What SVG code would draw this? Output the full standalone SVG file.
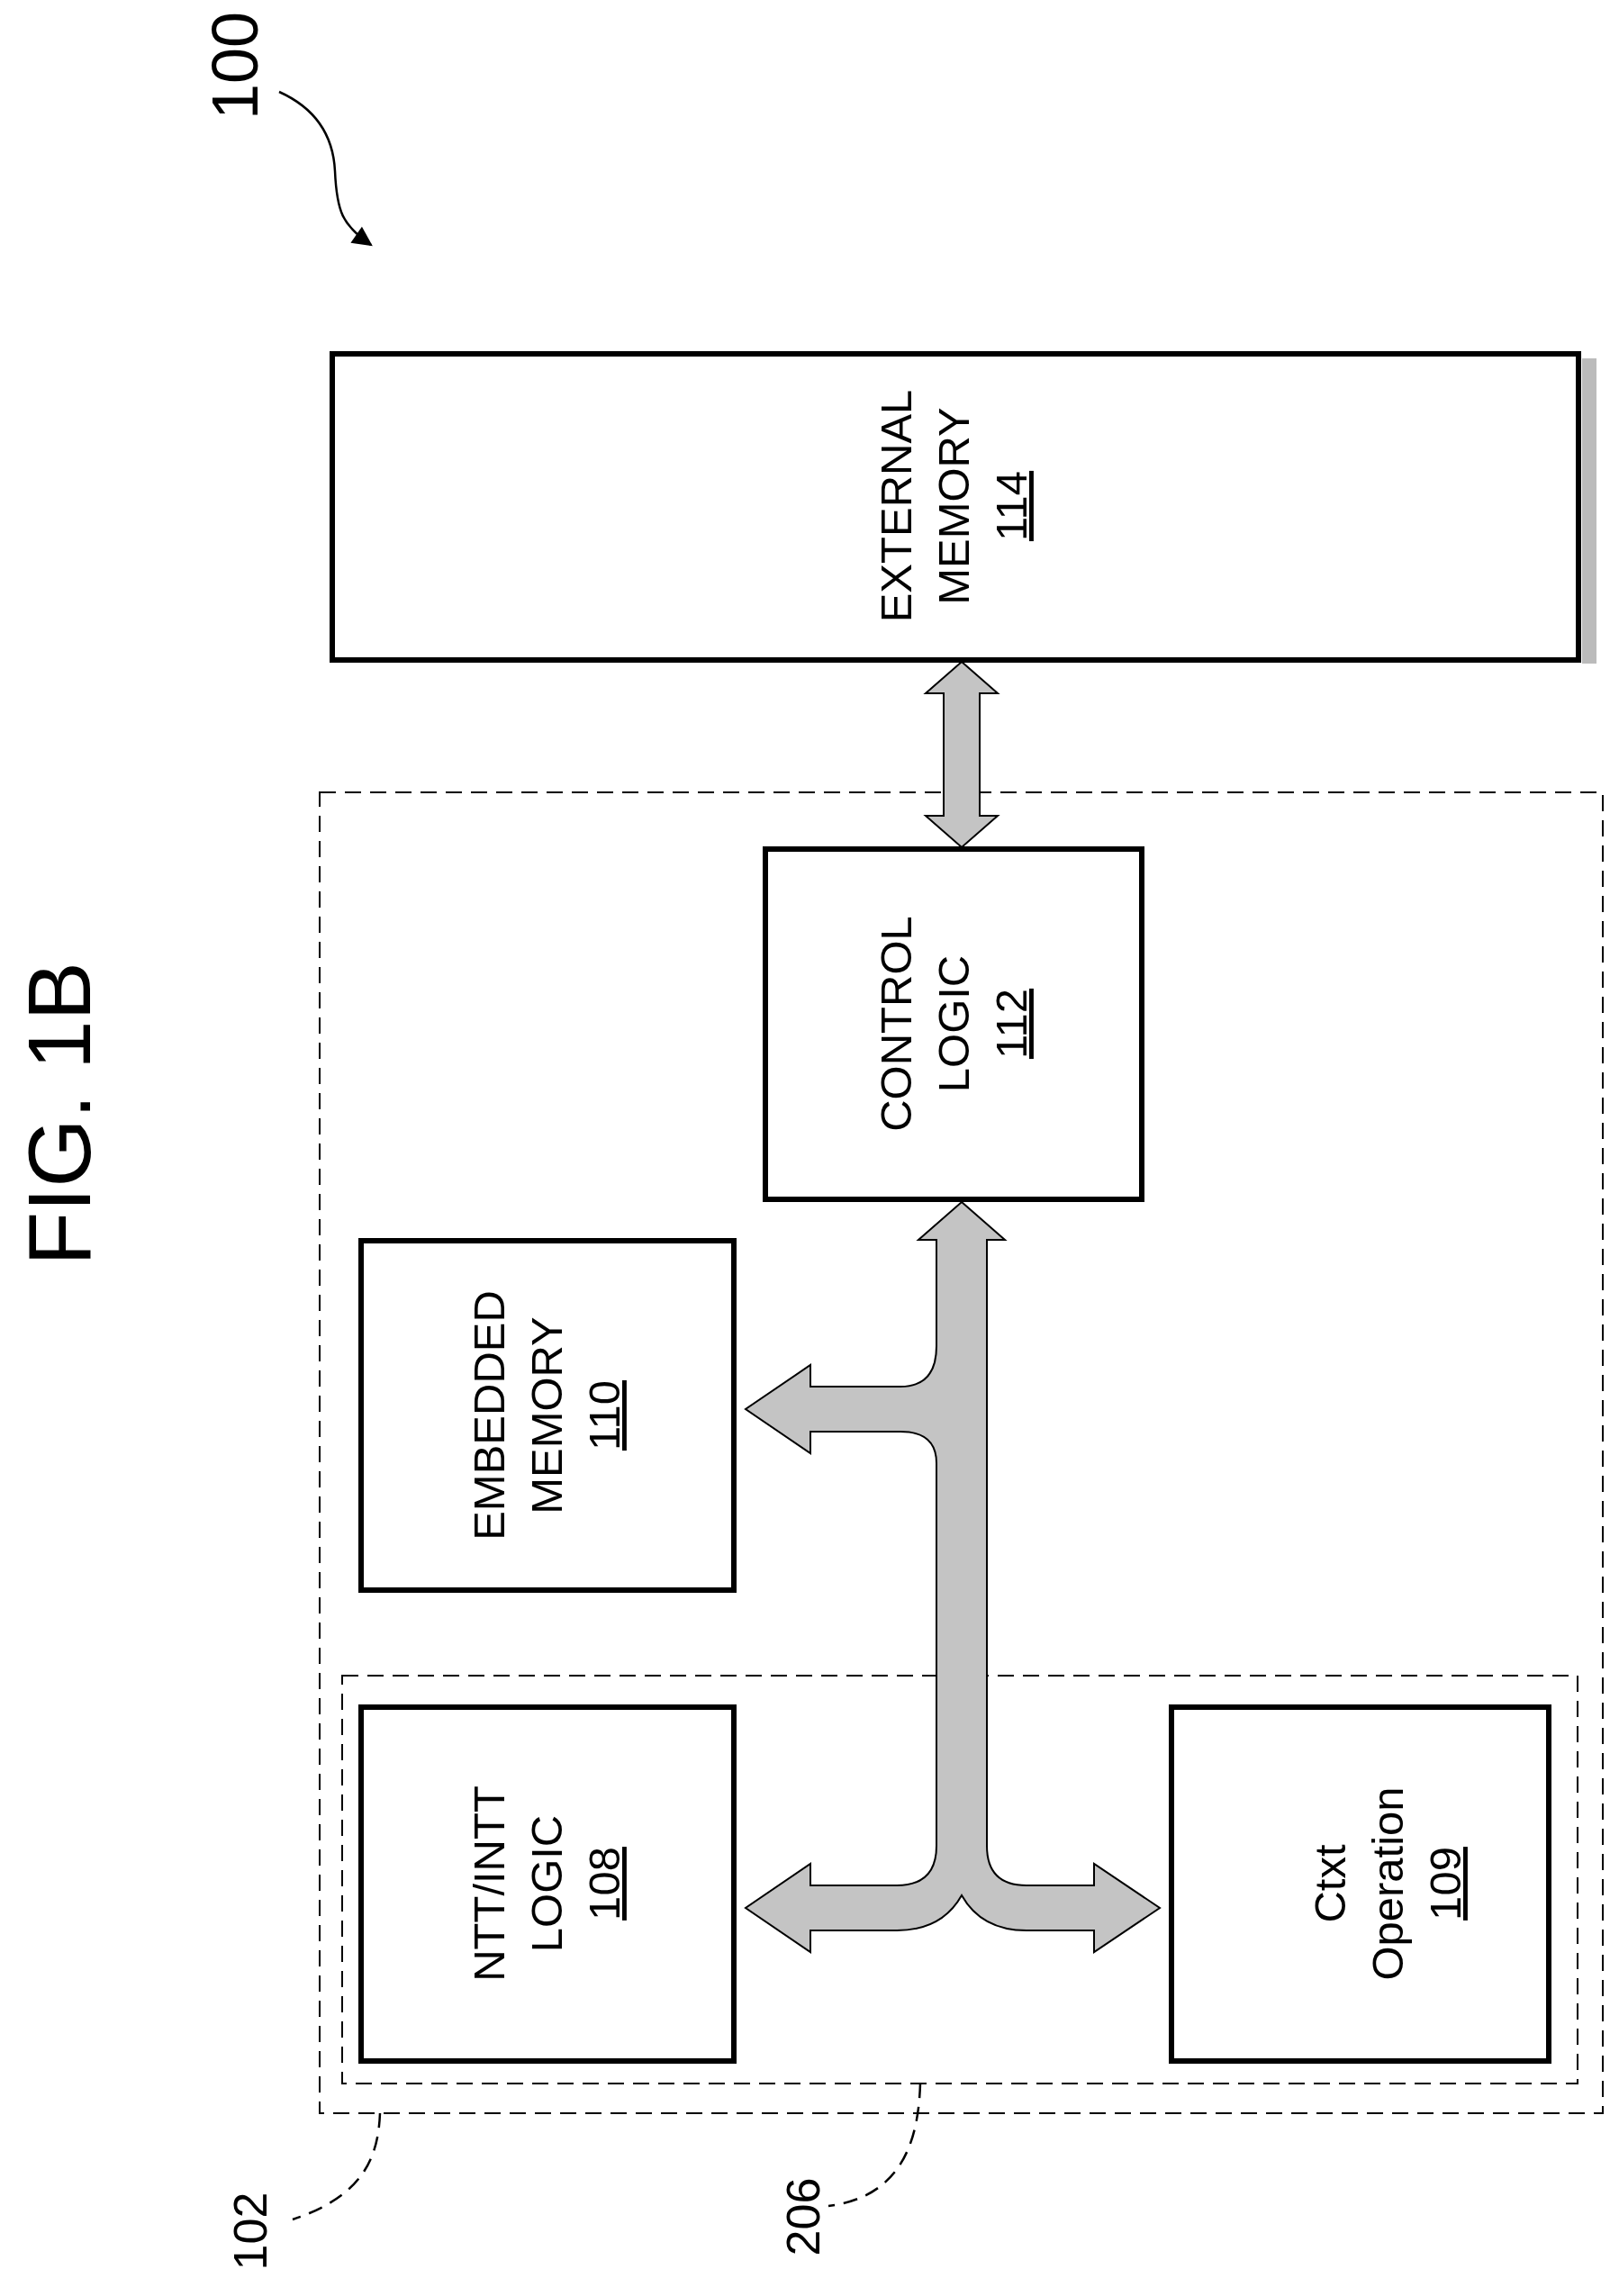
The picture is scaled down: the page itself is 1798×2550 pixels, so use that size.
<svg xmlns="http://www.w3.org/2000/svg" width="1798" height="2550" viewBox="0 0 1798 2550">
<style>
.box{fill:#fff;stroke:#000;stroke-width:6}
.dash{fill:none;stroke:#000;stroke-width:2;stroke-dasharray:18 10}
.bus{fill:#c4c4c4;stroke:#000;stroke-width:2;stroke-linejoin:miter}
.t{font-family:"Liberation Sans",Arial,sans-serif;font-size:49px;text-anchor:middle;fill:#000}
.lead{fill:none;stroke:#000;stroke-width:2.5}
</style>
<defs>
<marker id="ah2" viewBox="0 0 10 10" refX="9" refY="5" markerWidth="28" markerHeight="22" orient="auto" markerUnits="userSpaceOnUse"><path d="M0,0 L10,5 L0,10 Z" fill="#000"/></marker>
</defs>
<text class="t" style="font-size:98px" transform="translate(100,1237) rotate(-90)">FIG. 1B</text>
<text class="t" style="font-size:72px" transform="translate(286,73) rotate(-90)">100</text>
<path class="lead" marker-end="url(#ah2)" d="M310,102 C350,120 370,150 372,190 C374,235 380,250 412,272"/>

<g id="n102"><rect class="dash" x="355" y="880" width="1425" height="1467"/></g>
<g id="n206"><rect class="dash" x="380" y="1861" width="1372" height="453"/></g>

<g id="n114">
<rect x="1757" y="398" width="16" height="339" fill="#bbb"/>
<rect class="box" x="369" y="393" width="1384" height="340"/>
<text class="t" transform="translate(1060,562) rotate(-90)"><tspan x="0" y="-48">EXTERNAL</tspan><tspan x="0" y="16">MEMORY</tspan><tspan x="0" y="80" text-decoration="underline">114</tspan></text>
</g>
<g id="n112">
<rect class="box" x="850" y="943" width="418" height="389"/>
<text class="t" transform="translate(1060,1137) rotate(-90)"><tspan x="0" y="-48">CONTROL</tspan><tspan x="0" y="16">LOGIC</tspan><tspan x="0" y="80" text-decoration="underline">112</tspan></text>
</g>
<g id="n110">
<rect class="box" x="401" y="1378" width="414" height="388"/>
<text class="t" transform="translate(608,1572) rotate(-90)"><tspan x="0" y="-48">EMBEDDED</tspan><tspan x="0" y="16">MEMORY</tspan><tspan x="0" y="80" text-decoration="underline">110</tspan></text>
</g>
<g id="n108">
<rect class="box" x="401" y="1896" width="414" height="393"/>
<text class="t" transform="translate(608,2092) rotate(-90)"><tspan x="0" y="-48">NTT/INTT</tspan><tspan x="0" y="16">LOGIC</tspan><tspan x="0" y="80" text-decoration="underline">108</tspan></text>
</g>
<g id="n109">
<rect class="box" x="1301" y="1896" width="419" height="393"/>
<text class="t" transform="translate(1510,2092) rotate(-90)"><tspan x="0" y="-16">Ctxt</tspan><tspan x="0" y="48">Operation</tspan><tspan x="0" y="112" text-decoration="underline">109</tspan></text>
</g>

<g id="connectors">
<path class="bus" d="M1068,735 L1108,770 L1088,770 L1088,906 L1108,906 L1068,941 L1028,906 L1048,906 L1048,770 L1028,770 Z"/>
<path class="bus" d="M1068,1335 L1116,1377 L1096,1377 L1096,2050 Q1096,2094 1140,2094 L1215,2094 L1215,2070 L1288,2119 L1215,2168 L1215,2144 L1140,2144 Q1090,2144 1068,2105 Q1046,2144 996,2144 L900,2144 L900,2168 L828,2119 L900,2070 L900,2094 L996,2094 Q1040,2094 1040,2050 L1040,1625 Q1040,1590 1000,1590 L900,1590 L900,1614 L828,1565 L900,1516 L900,1540 L1000,1540 Q1040,1540 1040,1495 L1040,1377 L1020,1377 Z"/>
<path class="lead" stroke-dasharray="16 10" d="M422,2347 C420,2400 400,2440 325,2465"/>
<path class="lead" stroke-dasharray="16 10" d="M1022,2314 C1020,2380 1000,2440 920,2450"/>
</g>
<text class="t" style="font-size:52px" transform="translate(296,2478) rotate(-90)">102</text>
<text class="t" style="font-size:52px" transform="translate(910,2462) rotate(-90)">206</text>
</svg>
